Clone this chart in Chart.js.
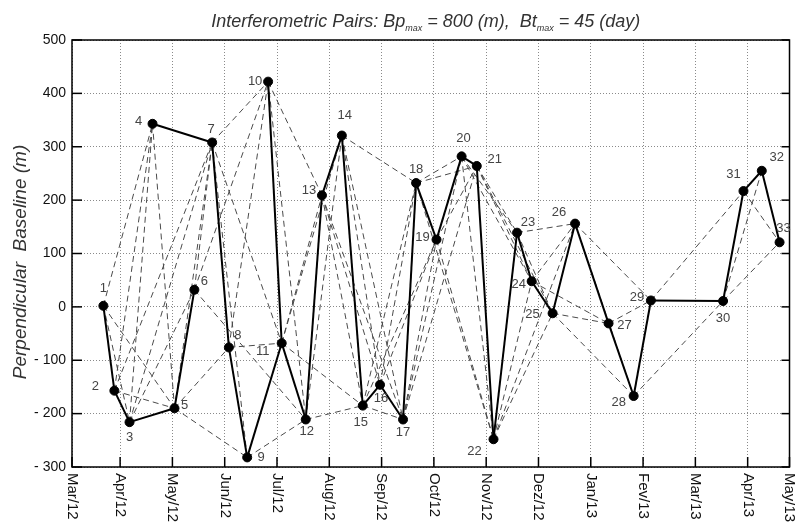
<!DOCTYPE html>
<html>
<head>
  <meta charset="UTF-8">
  <title>Interferometric Pairs</title>
  <script src="https://cdn.jsdelivr.net/npm/chart.js"></script>
  <style>
    html, body { margin: 0; padding: 0; background: #fff; }
    #wrap { width: 795px; height: 527px; }
  </style>
</head>
<body>
  <div id="wrap"><canvas id="chart"></canvas></div>

  <script>
    // month tick labels (index 0 = Mar/12)
    var monthLabels = ["Mar/12", "Apr/12", "May/12", "Jun/12", "Jul/12", "Aug/12", "Sep/12",
      "Oct/12", "Nov/12", "Dez/12", "Jan/13", "Fev/13", "Mar/13", "Apr/13", "May/13"];

    // acquisitions: time in months since Mar/12, perpendicular baseline (m)
    var acqMonth = [0.68, 0.89, 1.18, 1.62, 2.04, 2.42, 2.76, 3.08, 3.43, 3.83, 4.09,
      4.55, 4.86, 5.24, 5.64, 5.97, 6.41, 6.66, 7.05, 7.53, 7.82, 8.14,
      8.59, 8.87, 9.27, 9.70, 10.34, 10.82, 11.15, 12.53, 12.92, 13.27, 13.61];
    var bperp = [2, -157, -216, 343, -190, 32, 308, -76, -282, 422, -68,
      -211, 209, 321, -185, -146, -211, 232, 126, 282, 264, -248,
      139, 48, -12, 156, -31, -167, 12, 11, 217, 255, 121];

    // solid links (acquisition numbers)
    var solidPairs = [[1, 2], [2, 3], [3, 5], [5, 6], [4, 7], [7, 8], [8, 9], [9, 11], [10, 11],
      [11, 12], [12, 13], [13, 14], [14, 15], [15, 16], [16, 17], [17, 18], [18, 19], [19, 20],
      [20, 21], [21, 22], [22, 23], [23, 24], [24, 25], [25, 26], [26, 27], [27, 28], [28, 29],
      [29, 30], [30, 31], [31, 32], [32, 33]];

    // dashed links (interferometric pairs)
    var dashedPairs = [[1, 3], [1, 4], [1, 5], [2, 4], [2, 5], [2, 7], [3, 4], [3, 6], [3, 7],
      [4, 5], [5, 7], [5, 8], [5, 9], [6, 7], [6, 10], [6, 12], [7, 9], [7, 10], [7, 11], [8, 10],
      [8, 11], [9, 12], [10, 12], [10, 13], [11, 13], [11, 14], [11, 15], [12, 14], [12, 15],
      [13, 15], [13, 16], [13, 17], [14, 16], [14, 17], [14, 18], [15, 17], [15, 18], [15, 19],
      [16, 18], [16, 19], [17, 19], [17, 20], [17, 21], [18, 20], [18, 21], [18, 22],
      [19, 21], [19, 22], [20, 22], [20, 23], [20, 24], [21, 23], [21, 24], [21, 25], [22, 24],
      [22, 25], [22, 26], [23, 25], [23, 26], [24, 26], [24, 27], [25, 27], [25, 28], [26, 28],
      [26, 29], [27, 29], [28, 30], [29, 31], [30, 32], [30, 33], [31, 33]];

    // where each number sits around its point: [dx, dy]
    var labelOffsets = [[0, -17], [-19, -4], [0, 15], [-14, -2], [10, -3], [10, -8], [-1, -13],
      [9, -12], [14, 0], [-13, 0], [-19, 8], [1, 12], [-13, -5], [3, -20], [-2, 17], [1, 14],
      [0, 13], [0, -14], [-14, -2], [2, -18], [18, -7], [-19, 12], [11, -10], [-13, 3],
      [-20, 1], [-16, -11], [16, 2], [-15, 6], [-14, -3], [0, 17], [-10, -17], [15, -13], [4, -14]];

    var xMin = 0.08, xMax = 13.8;

    function pt(n) { return { x: acqMonth[n - 1], y: bperp[n - 1] }; }

    var datasets = [];
    datasets.push({
      type: "scatter",
      data: acqMonth.map(function (m, i) { return { x: m, y: bperp[i] }; }),
      backgroundColor: "#000", borderColor: "#000",
      pointRadius: 4.5, pointHoverRadius: 4.5, order: 0
    });
    solidPairs.forEach(function (p) {
      datasets.push({
        type: "line", data: [pt(p[0]), pt(p[1])],
        borderColor: "#000", borderWidth: 2, pointRadius: 0, order: 1
      });
    });
    dashedPairs.forEach(function (p) {
      datasets.push({
        type: "line", data: [pt(p[0]), pt(p[1])],
        borderColor: "#4a4a4a", borderWidth: 1, borderDash: [6, 4], pointRadius: 0, order: 2
      });
    });

    // frame, inward ticks, rotated month labels, numbers, titles
    var decor = {
      id: "decor",
      beforeDatasetsDraw: function (chart) {
        var ctx = chart.ctx, a = chart.chartArea, x = chart.scales.x, y = chart.scales.y;
        ctx.save();
        ctx.strokeStyle = "#000";
        ctx.lineWidth = 1.5;
        x.ticks.forEach(function (t) {
          var px = x.getPixelForValue(t.value);
          ctx.beginPath(); ctx.moveTo(px, a.bottom); ctx.lineTo(px, a.bottom - 10); ctx.stroke();
        });
        y.ticks.forEach(function (t) {
          var py = y.getPixelForValue(t.value);
          ctx.beginPath(); ctx.moveTo(a.left, py); ctx.lineTo(a.left + 10, py); ctx.stroke();
          ctx.beginPath(); ctx.moveTo(a.right, py); ctx.lineTo(a.right - 8, py); ctx.stroke();
        });
        ctx.strokeRect(a.left, a.top, a.right - a.left, a.bottom - a.top);
        ctx.restore();
      },
      afterDraw: function (chart) {
        var ctx = chart.ctx, a = chart.chartArea, x = chart.scales.x, y = chart.scales.y;
        ctx.save();
        // month labels, read top to bottom
        ctx.fillStyle = "#111";
        ctx.font = "15px 'Liberation Sans', Arial, sans-serif";
        ctx.textAlign = "left";
        ctx.textBaseline = "middle";
        x.ticks.forEach(function (t, i) {
          var px = x.getPixelForValue(t.value);
          ctx.save();
          ctx.translate(px, a.bottom + 6);
          ctx.rotate(Math.PI / 2);
          ctx.fillText(monthLabels[i], 0, 0);
          ctx.restore();
        });
        // acquisition numbers
        ctx.fillStyle = "#444";
        ctx.font = "13px 'Liberation Sans', Arial, sans-serif";
        ctx.textAlign = "center";
        ctx.textBaseline = "middle";
        acqMonth.forEach(function (m, i) {
          var px = x.getPixelForValue(m), py = y.getPixelForValue(bperp[i]);
          ctx.fillText(String(i + 1), px + labelOffsets[i][0], py + labelOffsets[i][1]);
        });
        // title with subscripts
        var parts = [["Interferometric Pairs: Bp", 0], ["max", 1], [" = 800 (m),  Bt", 0], ["max", 1], [" = 45 (day)", 0]];
        var big = "italic 18px 'Liberation Sans', Arial, sans-serif";
        var small = "italic 9px 'Liberation Sans', Arial, sans-serif";
        var w = 0;
        parts.forEach(function (p) { ctx.font = p[1] ? small : big; w += ctx.measureText(p[0]).width; });
        var cx = (a.left + a.right) / 2 - 5 - w / 2;
        ctx.fillStyle = "#333";
        ctx.textAlign = "left";
        ctx.textBaseline = "alphabetic";
        parts.forEach(function (p) {
          ctx.font = p[1] ? small : big;
          ctx.fillText(p[0], cx, p[1] ? 31 : 27);
          cx += ctx.measureText(p[0]).width;
        });
        // y axis title
        ctx.font = "italic 19px 'Liberation Sans', Arial, sans-serif";
        ctx.textAlign = "center";
        ctx.textBaseline = "middle";
        ctx.translate(21, 262);
        ctx.rotate(-Math.PI / 2);
        ctx.fillText("Perpendicular  Baseline (m)", 0, 0);
        ctx.restore();
      }
    };

    var chart = new Chart(document.getElementById("chart").getContext("2d"), {
      type: "line",
      data: { datasets: datasets },
      plugins: [decor],
      options: {
        responsive: true,
        maintainAspectRatio: false,
        animation: false,
        events: [],
        layout: { padding: { top: 40, right: 3, bottom: 0, left: 0 } },
        plugins: { legend: { display: false }, tooltip: { enabled: false }, title: { display: false } },
        scales: {
          x: {
            type: "linear", min: xMin, max: xMax,
            afterBuildTicks: function (s) {
              var v = [xMin];
              for (var k = 1; k < monthLabels.length - 1; k++) v.push(k);
              v.push(xMax);
              s.ticks = v.map(function (t) { return { value: t }; });
            },
            afterFit: function (s) { s.height = 60; },
            ticks: { display: false },
            grid: { color: "#8a8a8a", lineWidth: 1, drawTicks: false },
            border: { display: false, dash: [1, 2] }
          },
          y: {
            type: "linear", min: -300, max: 500,
            afterFit: function (s) { s.width = 72; },
            ticks: {
              stepSize: 100, padding: 6, color: "#111",
              font: { family: "'Liberation Sans', Arial, sans-serif", size: 14 },
              callback: function (v) { return v < 0 ? "- " + Math.abs(v) : String(v); }
            },
            grid: { color: "#8a8a8a", lineWidth: 1, drawTicks: false },
            border: { display: false, dash: [1, 2] }
          }
        }
      }
    });
  </script>
</body>
</html>
